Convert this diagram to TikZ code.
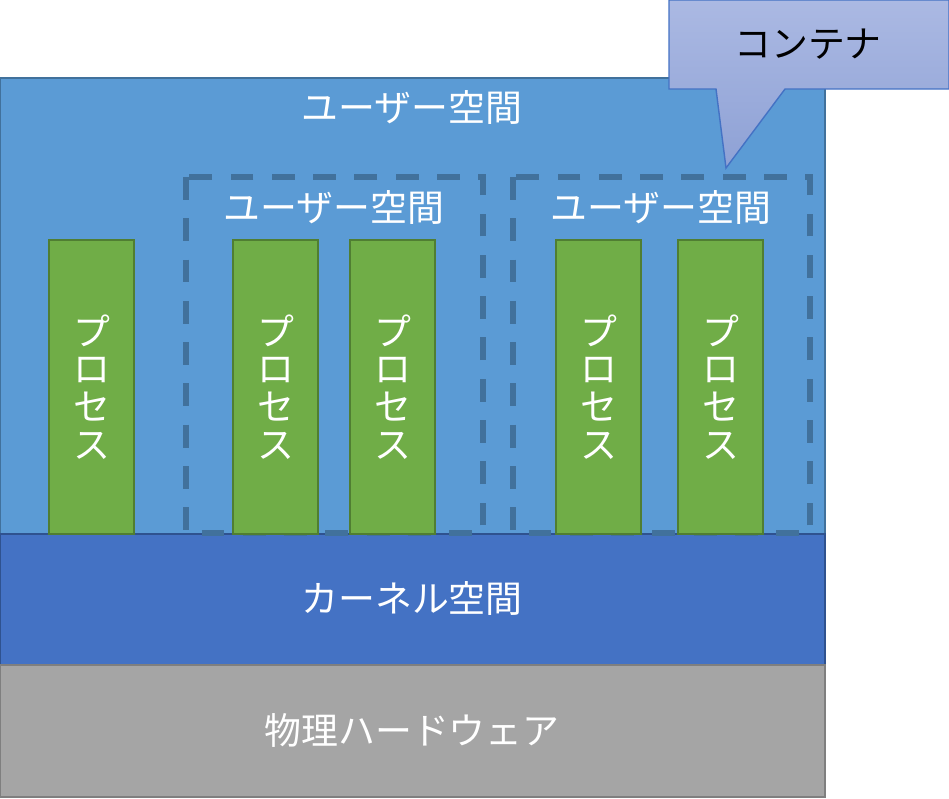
\documentclass[tikz,border=0pt]{standalone}
\usepackage{fontspec}
\setmainfont{Noto Sans CJK JP}
\usepackage{tikz}
\usetikzlibrary{positioning,calc}
\definecolor{userblue}{HTML}{5B9BD5}
\definecolor{userline}{HTML}{41719C}
\definecolor{kernelblue}{HTML}{4472C4}
\definecolor{kernelline}{HTML}{2F528F}
\definecolor{hwgray}{HTML}{A5A5A5}
\definecolor{hwline}{HTML}{7F7F7F}
\definecolor{procgreen}{HTML}{70AD47}
\definecolor{procline}{HTML}{507E32}
\definecolor{calltop}{HTML}{ABB9E3}
\definecolor{callbot}{HTML}{8EA1D5}

\begin{document}
\begin{tikzpicture}[x=0.02cm,y=-0.02cm,
  layertext/.style={text=white,inner sep=0pt,font=\fontsize{21}{25}\selectfont},
  container/.style={draw=userline,line width=3.4pt,dash pattern=on 13pt off 10.5pt},
  process/.style={draw=procline,fill=procgreen,line width=1pt,text=white,align=center,
    minimum width=1.7cm,minimum height=5.88cm,inner sep=0pt,font=\fontsize{21}{21.5}\selectfont},
  callout/.style={top color=calltop,bottom color=callbot,draw=kernelblue,line width=0.8pt}]
\useasboundingbox (0,0) rectangle (949,798);
\draw[fill=userblue,draw=userline,line width=0.8pt] (0,78) rectangle (825,534);
\draw[fill=kernelblue,draw=kernelline,line width=0.8pt] (0,534) rectangle (825,665);
\draw[fill=hwgray,draw=hwline,line width=0.8pt] (0,665) rectangle (825,797);
\node[layertext] (user) at (412,107) {ユーザー空間};
\node[layertext] (kernel) at (412,598) {カーネル空間};
\node[layertext] (hw) at (412,730) {物理ハードウェア};
\draw[container] (186,177) rectangle (483,533);
\draw[container] (513,177) rectangle (810,533);
\node[layertext] (cuser1) at (334,207) {ユーザー空間};
\node[layertext] (cuser2) at (661,207) {ユーザー空間};
\node[process] (p1) at (91.5,387) {プ\\ロ\\セ\\ス};
\node[process] (p2) at (275.5,387) {プ\\ロ\\セ\\ス};
\node[process] (p3) at (392.5,387) {プ\\ロ\\セ\\ス};
\node[process] (p4) at (598.5,387) {プ\\ロ\\セ\\ス};
\node[process] (p5) at (720.5,387) {プ\\ロ\\セ\\ス};
\path[callout] (669,0) -- (949,0) -- (949,89) -- (785,89) -- (726,168) -- (716,89) -- (669,89) -- cycle;
\node[inner sep=0pt,font=\fontsize{21}{25}\selectfont] (container) at (808,44) {コンテナ};
\end{tikzpicture}
\end{document}
